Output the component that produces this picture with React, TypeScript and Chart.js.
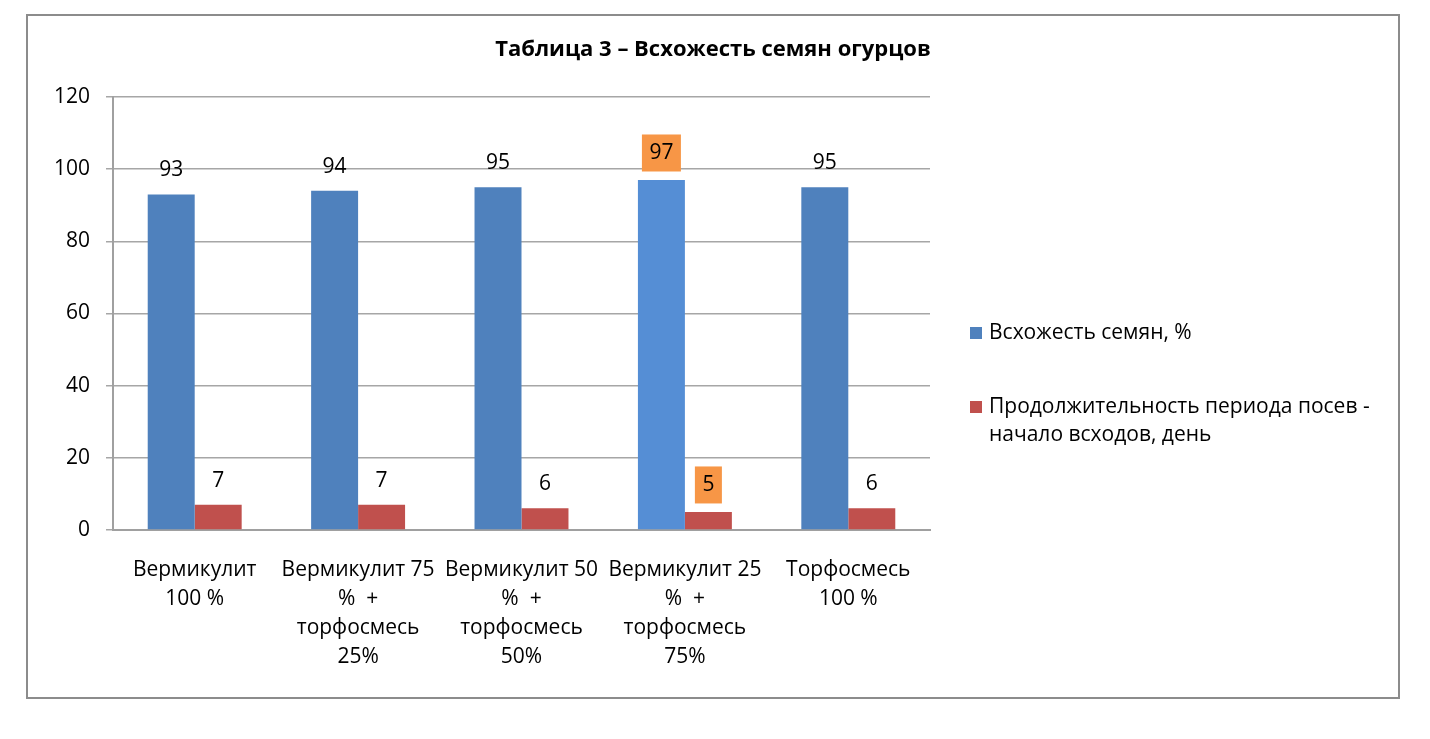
import React, { useEffect, useRef } from "react";
import { Chart, registerables } from "chart.js";

Chart.register(...registerables);

const titleText = "Таблица 3 – Всхожесть семян огурцов";
const categories: string[][] = [
  ["Вермикулит", "100 %"],
  ["Вермикулит 75", "%  +", "торфосмесь", "25%"],
  ["Вермикулит 50", "%  +", "торфосмесь", "50%"],
  ["Вермикулит 25", "%  +", "торфосмесь", "75%"],
  ["Торфосмесь", "100 %"],
];
const germination = [93, 94, 95, 97, 95];
const duration = [7, 7, 6, 5, 6];
const seriesNames = ["Всхожесть семян, %", "Продолжительность периода посев - начало всходов, день"];
const legendLines: string[][] = [
  ["Всхожесть семян, %"],
  ["Продолжительность периода посев -", "начало всходов, день"],
];
const yTicks = { min: 0, max: 120, step: 20 };
const highlightIndex = 3;

const FONT = "'Open Sans', 'Noto Sans', sans-serif";
const BLUE = "#4f81bd";
const BLUE_HI = "#558ed5";
const RED = "#c0504d";
const ORANGE = "#f79646";

const decorPlugin = {
  id: "decor",
  afterDraw(chart: any) {
    const ctx = chart.ctx as CanvasRenderingContext2D;
    ctx.save();
    // outer border
    ctx.strokeStyle = "#8c8c8c";
    ctx.lineWidth = 2;
    ctx.strokeRect(27, 15, 1372, 683);
    // title
    ctx.fillStyle = "#000";
    ctx.font = `bold 22px ${FONT}`;
    ctx.textAlign = "center";
    ctx.textBaseline = "middle";
    ctx.fillText(titleText, 713, 50);
    // data labels
    ctx.font = `21px ${FONT}`;
    chart.data.datasets.forEach((ds: any, di: number) => {
      const meta = chart.getDatasetMeta(di);
      meta.data.forEach((el: any, i: number) => {
        const v = ds.data[i];
        const cx = el.x;
        if (i === highlightIndex) {
          const cy = el.y - 27;
          ctx.fillStyle = ORANGE;
          const w = di === 0 ? 39 : 27;
          ctx.fillRect(cx - w / 2, cy - 18.5, w, 37);
          ctx.fillStyle = "#000";
          ctx.fillText(String(v), cx, cy);
        } else {
          ctx.fillStyle = "#000";
          ctx.fillText(String(v), cx, el.y - 24);
        }
      });
    });
    // legend
    const colors = [BLUE, RED];
    const ys = [333, 407];
    ctx.textAlign = "left";
    legendLines.forEach((lines, li) => {
      ctx.fillStyle = colors[li];
      ctx.fillRect(970, ys[li] - 6, 12, 12);
      ctx.fillStyle = "#000";
      lines.forEach((ln, k) => ctx.fillText(ln, 989, ys[li] + k * 28));
    });
    ctx.restore();
  },
};

export default function App() {
  const ref = useRef<HTMLCanvasElement>(null);
  useEffect(() => {
    document.body.style.margin = "0";
    const chart = new Chart(ref.current!, {
      type: "bar",
      data: {
        labels: categories as any,
        datasets: [
          {
            label: seriesNames[0],
            data: germination,
            backgroundColor: germination.map((_, i) => (i === highlightIndex ? BLUE_HI : BLUE)),
            categoryPercentage: 0.575,
            barPercentage: 1,
          },
          {
            label: seriesNames[1],
            data: duration,
            backgroundColor: RED,
            categoryPercentage: 0.575,
            barPercentage: 1,
          },
        ],
      },
      options: {
        responsive: false,
        animation: false,
        layout: { padding: { left: 0, top: 97, right: 500, bottom: 0 } },
        plugins: { legend: { display: false }, title: { display: false }, tooltip: { enabled: false } },
        scales: {
          x: {
            grid: { display: false, drawTicks: false },
            border: { display: true, color: "#a0a0a0", width: 2 },
            ticks: { color: "#000", font: { family: FONT, size: 21, lineHeight: 1.38 }, padding: 26, maxRotation: 0, autoSkip: false },
            afterFit: (s: any) => { s.height = 209; },
          },
          y: {
            min: yTicks.min,
            max: yTicks.max,
            grid: { color: "#a6a6a6", lineWidth: 1.5, tickLength: 7 },
            border: { display: true, color: "#a0a0a0", width: 2 },
            ticks: { stepSize: yTicks.step, color: "#000", font: { family: FONT, size: 21 }, padding: 16 },
            afterFit: (s: any) => { s.width = 113; },
          },
        },
      },
      plugins: [decorPlugin],
    });
    return () => chart.destroy();
  }, []);
  return (
    <div style={{ width: 1430, height: 739 }}>
      <canvas ref={ref} width={1430} height={739} />
    </div>
  );
}
